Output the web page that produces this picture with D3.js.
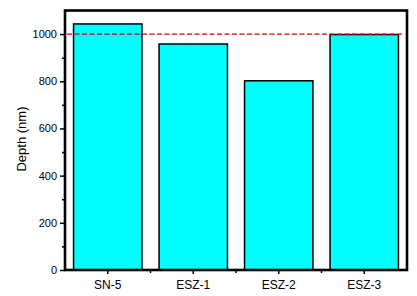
<!DOCTYPE html>
<html>
<head>
<meta charset="utf-8">
<script src="https://cdn.jsdelivr.net/npm/d3@7"></script>
<style>
  body { margin: 0; background: #fff; }
  svg { display: block; font-family: Arial, "Liberation Sans", sans-serif; }
</style>
</head>
<body>
<div id="chart"></div>
<script>
// data
const samples = ["SN-5", "ESZ-1", "ESZ-2", "ESZ-3"];
const depths = [1043, 958, 802, 998];
const refDepth = 1000;
const yTicks = [0, 200, 400, 600, 800, 1000];
const yMinorTicks = [100, 300, 500, 700, 900];

const width = 417, height = 296;
const plotLeft = 65, plotRight = 407, plotTop = 10.5, plotBottom = 270;

const svg = d3.select("#chart").append("svg")
    .attr("width", width)
    .attr("height", height);

const x = d3.scaleBand().domain(samples).range([plotLeft, plotRight]).paddingInner(0.2).paddingOuter(0.1);
const y = d3.scaleLinear().domain([0, 1100]).range([plotBottom, plotTop]);

// bars
svg.selectAll(".bar")
    .data(samples)
    .enter()
    .append("rect")
    .attr("class", "bar")
    .attr("x", d => x(d))
    .attr("width", x.bandwidth())
    .attr("y", (d, i) => y(depths[i]))
    .attr("height", (d, i) => y(0) - y(depths[i]))
    .attr("fill", "#00ffff")
    .attr("stroke", "#000")
    .attr("stroke-width", 1.5);

// reference line
svg.append("line")
    .attr("x1", plotLeft + 2).attr("x2", 402)
    .attr("y1", y(refDepth)).attr("y2", y(refDepth))
    .attr("stroke", "#d40000")
    .attr("stroke-width", 1.2)
    .attr("stroke-dasharray", "5,2.5");

// y axis
const yAxis = svg.append("g")
    .attr("transform", `translate(${plotLeft},0)`)
    .call(d3.axisLeft(y).tickValues(yTicks).tickSize(5).tickPadding(3).tickFormat(d3.format("d")));
yAxis.selectAll(".tick text").attr("font-size", 11).attr("fill", "#000");
yAxis.selectAll(".tick line").attr("stroke-width", 1.5);
yAxis.select(".domain").remove();
svg.append("g")
    .attr("transform", `translate(${plotLeft},0)`)
    .call(d3.axisLeft(y).tickValues(yMinorTicks).tickSize(3).tickFormat(""))
    .call(g => g.select(".domain").remove())
    .selectAll("line").attr("stroke-width", 1.5);

// x axis
const xAxis = svg.append("g")
    .attr("transform", `translate(0,${plotBottom})`)
    .call(d3.axisBottom(x).tickSize(4).tickPadding(6));
xAxis.selectAll(".tick text").attr("font-size", 12).attr("fill", "#000");
xAxis.selectAll(".tick line").attr("stroke-width", 1.5);
xAxis.select(".domain").remove();

// minor x ticks at band boundaries
const step = x.step();
const bounds = samples.slice(0, -1).map(d => x(d) + x.bandwidth() + (step - x.bandwidth()) / 2);
svg.selectAll(".xminor")
    .data(bounds)
    .enter()
    .append("line")
    .attr("x1", d => d).attr("x2", d => d)
    .attr("y1", plotBottom).attr("y2", plotBottom + 3)
    .attr("stroke", "#000")
    .attr("stroke-width", 1.5);

// frame
svg.append("rect")
    .attr("x", plotLeft).attr("y", plotTop)
    .attr("width", plotRight - plotLeft).attr("height", plotBottom - plotTop)
    .attr("fill", "none")
    .attr("stroke", "#000")
    .attr("stroke-width", 2.6);

// y title
svg.append("text")
    .attr("transform", `translate(26,139) rotate(-90)`)
    .attr("text-anchor", "middle")
    .attr("font-size", 13)
    .text("Depth (nm)");
</script>
</body>
</html>
